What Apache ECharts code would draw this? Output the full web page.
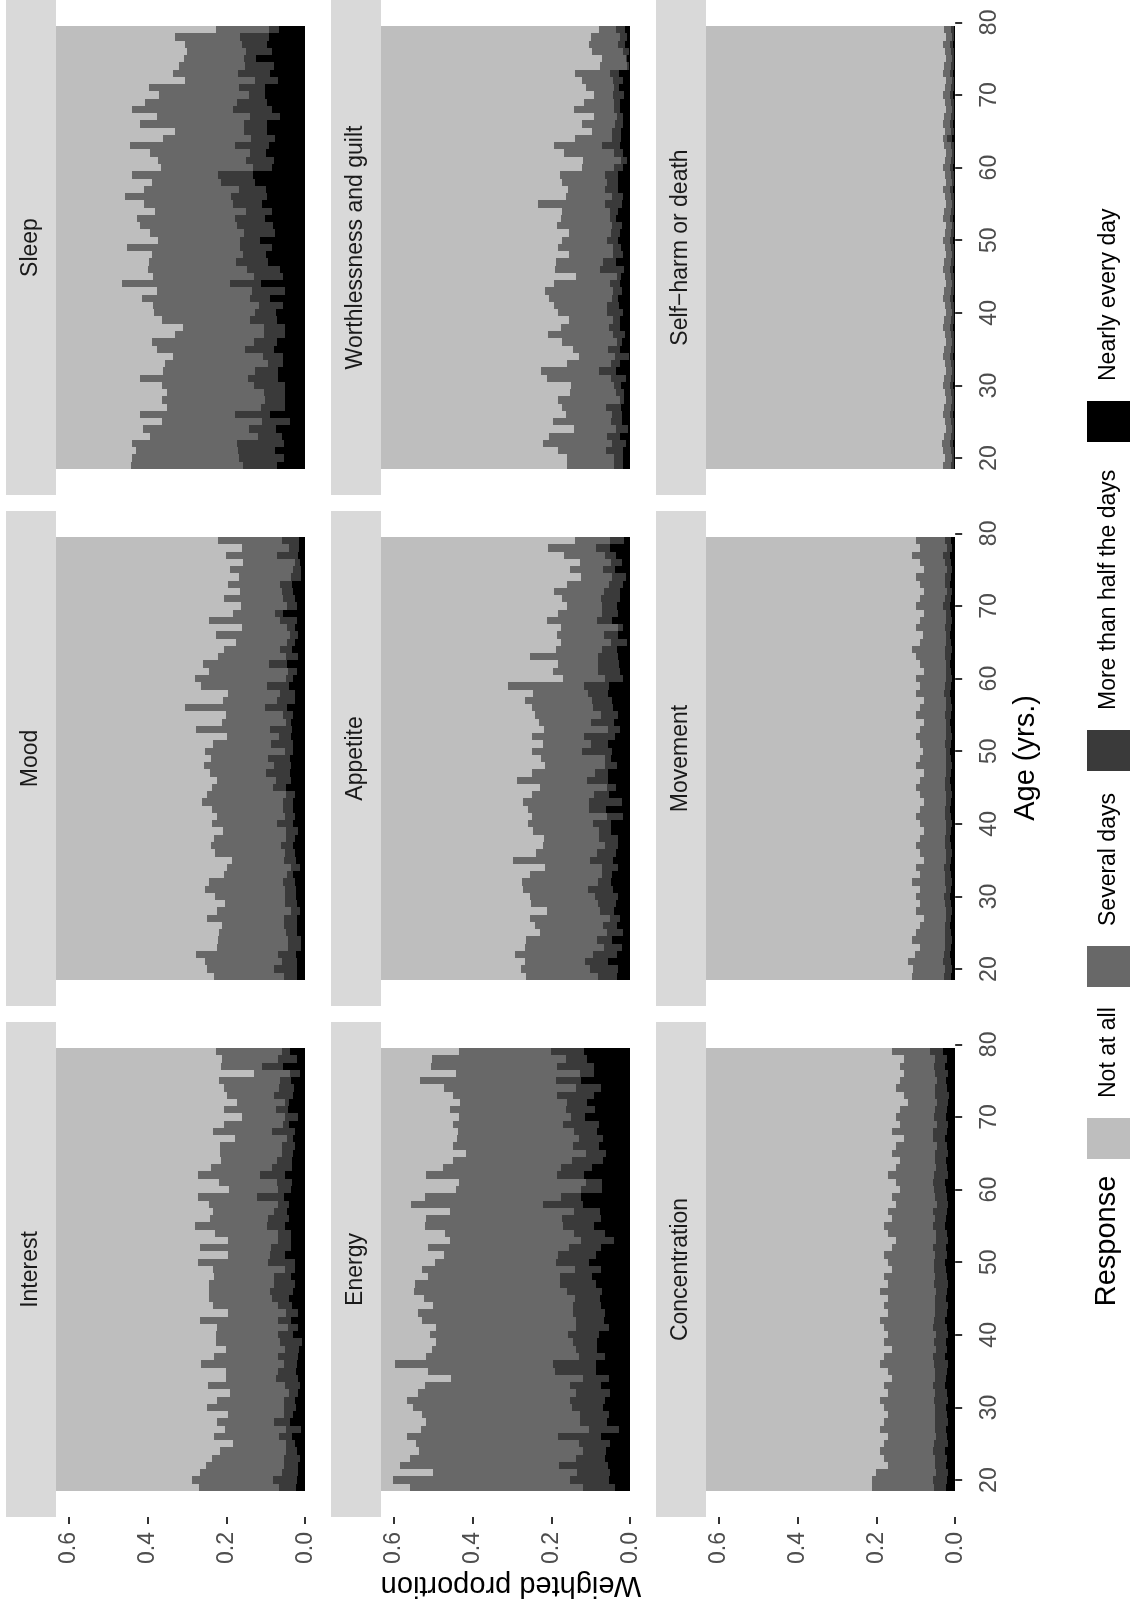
<!DOCTYPE html>
<html>
<head>
<meta charset="utf-8">
<script src="https://cdn.jsdelivr.net/npm/echarts@6/dist/echarts.min.js"></script>
<style>
  html, body { margin: 0; padding: 0; background: #ffffff; }
  #chart { width: 1132px; height: 1612px; }
</style>
</head>
<body>
<div id="chart"></div>
<script>
// ages, listed from the top of each panel (79) down to the bottom (19)
var ages = [79,78,77,76,75,74,73,72,71,70,69,68,67,66,65,64,63,62,61,60,59,58,57,56,55,54,53,52,51,50,
  49,48,47,46,45,44,43,42,41,40,39,38,37,36,35,34,33,32,31,30,29,28,27,26,25,24,23,22,21,20,19];

var responses = ['Not at all', 'Several days', 'More than half the days', 'Nearly every day'];
var proportionTicks = [0, 0.2, 0.4, 0.6];
var ageTicks = [20, 30, 40, 50, 60, 70, 80];

// weighted proportions per age (same order as ages)
var interestNearly = [0.038,0.021,0.055,0.013,0.035,0.028,0.030,0.041,0.044,0.019,0.040,0.026,0.030,0.025,0.030,0.033,0.033,0.052,0.033,0.035,
  0.053,0.040,0.046,0.040,0.052,0.035,0.035,0.035,0.052,0.026,0.026,0.035,0.026,0.031,0.041,0.033,0.018,0.035,0.019,0.030,
  0.008,0.015,0.018,0.021,0.023,0.018,0.013,0.019,0.026,0.023,0.031,0.038,0.010,0.033,0.026,0.021,0.013,0.019,0.019,0.021,0.023];
var interestMore = [0.020,0.048,0.054,0.025,0.028,0.039,0.049,0.009,0.030,0.033,0.016,0.057,0.016,0.034,0.029,0.039,0.051,0.063,0.038,0.035,
  0.068,0.029,0.032,0.054,0.045,0.033,0.033,0.051,0.037,0.068,0.025,0.043,0.052,0.057,0.042,0.035,0.030,0.033,0.025,0.038,
  0.057,0.035,0.051,0.032,0.046,0.056,0.038,0.022,0.027,0.030,0.022,0.041,0.038,0.033,0.022,0.027,0.041,0.035,0.040,0.060,0.043];
var interestSeveral = [0.169,0.142,0.104,0.091,0.155,0.139,0.119,0.124,0.132,0.108,0.150,0.152,0.132,0.157,0.157,0.142,0.155,0.157,0.147,0.124,
  0.152,0.175,0.157,0.147,0.183,0.160,0.127,0.180,0.106,0.177,0.184,0.152,0.167,0.157,0.160,0.167,0.147,0.198,0.180,0.157,
  0.162,0.150,0.162,0.210,0.132,0.127,0.195,0.150,0.170,0.195,0.144,0.144,0.155,0.165,0.134,0.167,0.183,0.198,0.208,0.205,0.203];

var moodNearly = [0.016,0.016,0.019,0.014,0.010,0.010,0.033,0.030,0.025,0.021,0.055,0.021,0.025,0.019,0.025,0.033,0.019,0.046,0.021,0.030,
  0.041,0.025,0.025,0.046,0.031,0.035,0.033,0.035,0.030,0.030,0.038,0.035,0.038,0.035,0.048,0.027,0.030,0.030,0.027,0.030,
  0.018,0.025,0.030,0.025,0.023,0.013,0.030,0.025,0.023,0.023,0.021,0.013,0.021,0.021,0.021,0.010,0.010,0.023,0.021,0.021,0.021];
var moodMore = [0.042,0.025,0.052,0.013,0.021,0.025,0.030,0.029,0.030,0.025,0.022,0.042,0.020,0.019,0.022,0.030,0.030,0.047,0.023,0.019,
  0.057,0.039,0.047,0.055,0.024,0.014,0.057,0.031,0.057,0.020,0.056,0.045,0.061,0.040,0.033,0.021,0.026,0.025,0.024,0.042,
  0.030,0.024,0.031,0.027,0.031,0.023,0.016,0.032,0.028,0.028,0.030,0.023,0.033,0.033,0.027,0.033,0.033,0.045,0.039,0.057,0.032];
var moodSeveral = [0.164,0.120,0.131,0.131,0.159,0.133,0.134,0.107,0.150,0.116,0.106,0.180,0.115,0.188,0.128,0.143,0.173,0.165,0.201,0.231,
  0.167,0.132,0.136,0.203,0.146,0.161,0.188,0.132,0.148,0.204,0.145,0.176,0.142,0.149,0.155,0.201,0.205,0.182,0.172,0.165,
  0.161,0.183,0.177,0.177,0.131,0.162,0.160,0.187,0.203,0.177,0.153,0.188,0.194,0.157,0.171,0.179,0.180,0.209,0.194,0.170,0.177];

var sleepNearly = [0.067,0.092,0.097,0.084,0.124,0.078,0.089,0.069,0.101,0.101,0.097,0.084,0.063,0.097,0.097,0.077,0.092,0.099,0.079,0.084,
  0.133,0.126,0.099,0.097,0.109,0.084,0.103,0.082,0.077,0.114,0.084,0.099,0.095,0.065,0.057,0.112,0.051,0.090,0.057,0.075,
  0.071,0.052,0.052,0.072,0.080,0.055,0.057,0.068,0.070,0.052,0.050,0.050,0.052,0.089,0.039,0.074,0.060,0.053,0.077,0.053,0.072];
var sleepMore = [0.025,0.074,0.063,0.066,0.032,0.074,0.081,0.059,0.067,0.042,0.075,0.098,0.076,0.059,0.059,0.060,0.085,0.041,0.071,0.049,
  0.087,0.087,0.068,0.090,0.074,0.066,0.076,0.090,0.079,0.051,0.081,0.059,0.080,0.083,0.073,0.079,0.084,0.049,0.059,0.052,
  0.068,0.052,0.052,0.057,0.072,0.051,0.037,0.060,0.074,0.079,0.055,0.052,0.060,0.088,0.070,0.069,0.060,0.119,0.094,0.115,0.085];
var sleepSeveral = [0.135,0.163,0.146,0.150,0.152,0.169,0.164,0.177,0.229,0.228,0.233,0.257,0.236,0.262,0.174,0.224,0.267,0.254,0.224,0.232,
  0.219,0.175,0.243,0.270,0.226,0.231,0.247,0.246,0.237,0.209,0.286,0.230,0.221,0.250,0.256,0.274,0.241,0.274,0.270,0.256,
  0.224,0.207,0.226,0.260,0.223,0.230,0.262,0.232,0.276,0.232,0.245,0.261,0.238,0.242,0.254,0.268,0.273,0.266,0.258,0.272,0.284];

var energyNearly = [0.117,0.109,0.092,0.092,0.124,0.074,0.092,0.109,0.089,0.114,0.079,0.084,0.068,0.079,0.061,0.068,0.096,0.117,0.071,0.071,
  0.124,0.119,0.076,0.074,0.091,0.063,0.041,0.074,0.086,0.104,0.074,0.096,0.086,0.071,0.076,0.074,0.063,0.066,0.053,0.079,
  0.084,0.084,0.063,0.086,0.086,0.053,0.074,0.051,0.063,0.068,0.053,0.058,0.028,0.074,0.051,0.061,0.063,0.056,0.051,0.053,0.038];
var energyMore = [0.083,0.053,0.093,0.034,0.063,0.063,0.093,0.051,0.074,0.035,0.091,0.058,0.063,0.066,0.051,0.079,0.079,0.068,0.041,0.053,
  0.051,0.101,0.066,0.099,0.079,0.079,0.084,0.081,0.096,0.084,0.066,0.081,0.091,0.089,0.063,0.071,0.081,0.071,0.084,0.079,
  0.061,0.053,0.066,0.109,0.104,0.066,0.079,0.086,0.089,0.079,0.074,0.068,0.076,0.109,0.079,0.058,0.074,0.124,0.084,0.099,0.081];
var energySeveral = [0.233,0.340,0.319,0.315,0.345,0.334,0.264,0.271,0.294,0.284,0.279,0.294,0.309,0.304,0.304,0.302,0.299,0.332,0.322,0.317,
  0.345,0.337,0.314,0.345,0.350,0.327,0.332,0.357,0.289,0.307,0.388,0.337,0.368,0.388,0.383,0.355,0.395,0.390,0.355,0.350,
  0.347,0.365,0.388,0.401,0.322,0.335,0.368,0.401,0.413,0.403,0.401,0.393,0.426,0.383,0.413,0.416,0.421,0.403,0.365,0.449,0.439];

var appetiteNearly = [0.016,0.051,0.035,0.020,0.038,0.010,0.018,0.025,0.025,0.033,0.030,0.046,0.018,0.030,0.008,0.033,0.030,0.028,0.025,0.018,
  0.053,0.057,0.046,0.043,0.030,0.041,0.025,0.038,0.056,0.046,0.048,0.033,0.056,0.056,0.035,0.053,0.020,0.061,0.018,0.048,
  0.048,0.030,0.030,0.035,0.043,0.030,0.046,0.048,0.043,0.030,0.035,0.041,0.025,0.033,0.018,0.046,0.021,0.033,0.056,0.030,0.033];
var appetiteMore = [0.035,0.035,0.028,0.028,0.030,0.035,0.035,0.041,0.048,0.038,0.041,0.038,0.014,0.037,0.041,0.038,0.051,0.053,0.056,0.046,
  0.063,0.049,0.050,0.051,0.043,0.058,0.030,0.078,0.043,0.075,0.015,0.030,0.033,0.053,0.025,0.039,0.084,0.043,0.041,0.046,
  0.030,0.048,0.035,0.048,0.058,0.041,0.025,0.033,0.063,0.058,0.046,0.035,0.025,0.035,0.041,0.038,0.045,0.061,0.058,0.071,0.048];
var appetiteSeveral = [0.090,0.123,0.106,0.078,0.085,0.080,0.108,0.128,0.101,0.090,0.112,0.126,0.144,0.119,0.126,0.116,0.174,0.103,0.116,0.106,
  0.195,0.141,0.172,0.156,0.169,0.131,0.164,0.134,0.121,0.127,0.164,0.154,0.159,0.177,0.169,0.158,0.169,0.154,0.189,0.164,
  0.169,0.141,0.157,0.156,0.197,0.144,0.183,0.194,0.166,0.165,0.170,0.134,0.205,0.174,0.169,0.179,0.202,0.197,0.154,0.175,0.184];

var worthNearly = [0.012,0.008,0.013,0.003,0.008,0.003,0.028,0.018,0.028,0.016,0.026,0.025,0.018,0.018,0.023,0.023,0.025,0.017,0.008,0.018,
  0.031,0.030,0.030,0.018,0.021,0.030,0.035,0.020,0.025,0.030,0.023,0.018,0.037,0.015,0.023,0.025,0.021,0.032,0.028,0.018,
  0.026,0.025,0.014,0.021,0.026,0.003,0.025,0.037,0.010,0.023,0.015,0.016,0.023,0.020,0.021,0.006,0.026,0.011,0.017,0.017,0.019];
var worthMore = [0.025,0.019,0.018,0.014,0.003,0.005,0.023,0.025,0.013,0.027,0.016,0.016,0.015,0.020,0.023,0.023,0.047,0.024,0.016,0.022,
  0.034,0.029,0.034,0.028,0.042,0.022,0.017,0.025,0.024,0.030,0.020,0.025,0.031,0.061,0.010,0.025,0.022,0.014,0.030,0.041,
  0.017,0.028,0.029,0.012,0.029,0.036,0.023,0.041,0.038,0.019,0.020,0.011,0.038,0.025,0.027,0.030,0.032,0.035,0.044,0.024,0.022];
var worthSeveral = [0.041,0.073,0.073,0.079,0.061,0.069,0.090,0.079,0.070,0.050,0.076,0.101,0.060,0.083,0.052,0.095,0.122,0.126,0.096,0.081,
  0.114,0.113,0.093,0.116,0.170,0.122,0.124,0.141,0.106,0.113,0.141,0.112,0.121,0.114,0.105,0.144,0.174,0.159,0.134,0.123,
  0.113,0.122,0.165,0.141,0.091,0.090,0.113,0.147,0.164,0.109,0.117,0.155,0.113,0.117,0.149,0.107,0.147,0.174,0.122,0.119,0.119];

var concNearly = [0.030,0.020,0.025,0.018,0.022,0.020,0.015,0.018,0.020,0.022,0.018,0.020,0.025,0.020,0.018,0.022,0.020,0.018,0.025,0.022,
  0.020,0.018,0.020,0.022,0.025,0.020,0.018,0.022,0.020,0.025,0.022,0.020,0.018,0.020,0.022,0.018,0.020,0.025,0.020,0.018,
  0.022,0.020,0.025,0.018,0.020,0.022,0.025,0.020,0.018,0.022,0.020,0.018,0.022,0.020,0.018,0.025,0.020,0.022,0.018,0.020,0.022];
var concMore = [0.035,0.030,0.028,0.032,0.025,0.030,0.035,0.028,0.030,0.032,0.028,0.035,0.030,0.025,0.032,0.030,0.028,0.035,0.030,0.032,
  0.030,0.028,0.035,0.030,0.032,0.028,0.030,0.035,0.030,0.028,0.032,0.030,0.035,0.028,0.030,0.032,0.030,0.028,0.035,0.030,
  0.032,0.028,0.030,0.035,0.030,0.028,0.032,0.030,0.035,0.028,0.030,0.032,0.030,0.028,0.035,0.030,0.032,0.028,0.030,0.035,0.032];
var concSeveral = [0.095,0.080,0.087,0.080,0.093,0.100,0.080,0.074,0.090,0.096,0.094,0.105,0.075,0.105,0.110,0.088,0.102,0.117,0.095,0.086,
  0.110,0.104,0.115,0.108,0.123,0.122,0.102,0.103,0.130,0.117,0.106,0.130,0.117,0.142,0.118,0.130,0.120,0.137,0.125,0.122,
  0.126,0.112,0.125,0.137,0.120,0.110,0.123,0.120,0.137,0.130,0.120,0.130,0.138,0.122,0.127,0.135,0.128,0.120,0.152,0.155,0.156];

var moveNearly = [0.010,0.008,0.012,0.010,0.008,0.010,0.012,0.008,0.010,0.012,0.010,0.008,0.010,0.012,0.010,0.008,0.010,0.012,0.010,0.008,
  0.010,0.012,0.010,0.008,0.010,0.012,0.010,0.008,0.010,0.012,0.010,0.008,0.010,0.012,0.010,0.008,0.010,0.012,0.010,0.008,
  0.010,0.012,0.010,0.008,0.010,0.012,0.010,0.008,0.010,0.012,0.010,0.008,0.010,0.012,0.010,0.008,0.010,0.012,0.010,0.008,0.010];
var moveMore = [0.015,0.012,0.018,0.015,0.012,0.016,0.014,0.012,0.015,0.018,0.012,0.015,0.016,0.012,0.014,0.018,0.015,0.012,0.014,0.016,
  0.015,0.016,0.012,0.015,0.016,0.012,0.014,0.016,0.015,0.012,0.014,0.016,0.012,0.015,0.016,0.014,0.012,0.015,0.016,0.014,
  0.012,0.015,0.016,0.014,0.012,0.016,0.015,0.018,0.014,0.016,0.015,0.016,0.012,0.015,0.016,0.018,0.015,0.016,0.020,0.018,0.018];
var moveSeveral = [0.075,0.070,0.080,0.065,0.060,0.074,0.064,0.060,0.065,0.070,0.058,0.067,0.074,0.058,0.066,0.084,0.075,0.066,0.056,0.076,
  0.065,0.072,0.058,0.067,0.074,0.056,0.066,0.076,0.065,0.058,0.066,0.076,0.058,0.063,0.074,0.068,0.058,0.063,0.074,0.068,
  0.058,0.063,0.074,0.068,0.058,0.072,0.065,0.084,0.066,0.072,0.065,0.076,0.058,0.063,0.074,0.084,0.065,0.074,0.090,0.082,0.082];

var harmNearly = [0.004,0.003,0.005,0.004,0.003,0.004,0.005,0.003,0.004,0.005,0.004,0.003,0.004,0.005,0.004,0.008,0.004,0.003,0.004,0.005,
  0.004,0.003,0.005,0.004,0.003,0.004,0.005,0.003,0.004,0.005,0.004,0.003,0.004,0.005,0.004,0.003,0.004,0.005,0.004,0.003,
  0.004,0.005,0.004,0.003,0.004,0.005,0.004,0.003,0.004,0.005,0.004,0.003,0.004,0.005,0.004,0.003,0.004,0.005,0.004,0.003,0.004];
var harmMore = [0.006,0.005,0.007,0.006,0.005,0.006,0.007,0.005,0.006,0.007,0.006,0.005,0.006,0.007,0.006,0.012,0.006,0.005,0.006,0.007,
  0.006,0.005,0.007,0.006,0.005,0.006,0.007,0.005,0.006,0.007,0.006,0.005,0.006,0.007,0.006,0.005,0.006,0.007,0.006,0.005,
  0.006,0.007,0.006,0.005,0.006,0.007,0.006,0.005,0.006,0.007,0.006,0.005,0.006,0.007,0.006,0.005,0.006,0.007,0.006,0.005,0.006];
var harmSeveral = [0.018,0.015,0.020,0.016,0.014,0.018,0.020,0.015,0.017,0.019,0.016,0.015,0.018,0.020,0.016,0.010,0.018,0.015,0.017,0.019,
  0.016,0.015,0.020,0.017,0.014,0.018,0.020,0.015,0.017,0.019,0.016,0.015,0.018,0.020,0.016,0.015,0.018,0.020,0.016,0.015,
  0.018,0.020,0.016,0.015,0.018,0.020,0.016,0.015,0.018,0.020,0.016,0.015,0.018,0.020,0.016,0.015,0.018,0.022,0.020,0.018,0.020];

var fills = ['#BEBEBE', '#686868', '#3A3A3A', '#000000'];
var font = "'Liberation Sans', Arial, Helvetica, sans-serif";

var panels = [
  { title: 'Sleep', col: 0, row: 0, several: sleepSeveral, more: sleepMore, nearly: sleepNearly },
  { title: 'Worthlessness and guilt', col: 1, row: 0, several: worthSeveral, more: worthMore, nearly: worthNearly },
  { title: 'Self\u2212harm or death', col: 2, row: 0, several: harmSeveral, more: harmMore, nearly: harmNearly },
  { title: 'Mood', col: 0, row: 1, several: moodSeveral, more: moodMore, nearly: moodNearly },
  { title: 'Appetite', col: 1, row: 1, several: appetiteSeveral, more: appetiteMore, nearly: appetiteNearly },
  { title: 'Movement', col: 2, row: 1, several: moveSeveral, more: moveMore, nearly: moveNearly },
  { title: 'Interest', col: 0, row: 2, several: interestSeveral, more: interestMore, nearly: interestNearly },
  { title: 'Energy', col: 1, row: 2, several: energySeveral, more: energyMore, nearly: energyNearly },
  { title: 'Concentration', col: 2, row: 2, several: concSeveral, more: concMore, nearly: concNearly }
];

// each item: [age, lower edge, upper edge] of one stacked piece
function stackPieces(p) {
  var out = [[], [], [], []];
  for (var i = 0; i < ages.length; i++) {
    var a = p.nearly[i], b = a + p.more[i], c = b + p.several[i];
    out[3].push([ages[i], 0, a]);
    out[2].push([ages[i], a, b]);
    out[1].push([ages[i], b, c]);
    out[0].push([ages[i], c, 1]);
  }
  return out;
}

function drawPiece(params, api) {
  var age = api.value(0), lo = api.value(1), hi = api.value(2);
  var p = api.coord([lo, age - 0.5]);
  var q = api.coord([hi, age + 0.5]);
  var x0 = Math.round(Math.min(p[0], q[0])), x1 = Math.round(Math.max(p[0], q[0]));
  var y0 = Math.round(Math.min(p[1], q[1])), y1 = Math.round(Math.max(p[1], q[1]));
  var cs = params.coordSys;
  var r = echarts.graphic.clipRectByRect(
    { x: x0, y: y0, width: x1 - x0, height: y1 - y0 },
    { x: cs.x, y: cs.y, width: cs.width, height: cs.height });
  if (!r) return;
  return { type: 'rect', shape: r, style: { fill: api.visual('color') } };
}

var grids = [], xAxes = [], yAxes = [], series = [], graphics = [];

panels.forEach(function (p, i) {
  var left = 56 + 325 * p.col, top = 511 * p.row;
  grids.push({ left: left, top: top, width: 261, height: 495 });
  xAxes.push({
    gridIndex: i, type: 'value', min: -0.03, max: 0.632, inverse: true,
    axisLine: { show: false }, splitLine: { show: false },
    axisTick: { show: p.row === 2, customValues: proportionTicks, length: 7, lineStyle: { color: '#333333', width: 2 } },
    axisLabel: {
      show: p.row === 2, customValues: proportionTicks, rotate: 90, margin: 15,
      color: '#4D4D4D', fontSize: 23, fontFamily: font,
      formatter: function (v) { return v.toFixed(1); }
    }
  });
  yAxes.push({
    gridIndex: i, type: 'value', min: 14.92, max: 83.08, position: 'right',
    axisLine: { show: false }, splitLine: { show: false },
    axisTick: { show: p.col === 2, customValues: ageTicks, length: 7, lineStyle: { color: '#333333', width: 2 } },
    axisLabel: { show: p.col === 2, customValues: ageTicks, rotate: 90, margin: 11, color: '#4D4D4D', fontSize: 23, fontFamily: font }
  });
  var pieces = stackPieces(p);
  for (var k = 0; k < 4; k++) {
    series.push({
      type: 'custom', name: responses[k], xAxisIndex: i, yAxisIndex: i,
      renderItem: drawPiece, itemStyle: { color: fills[k] },
      encode: { x: [1, 2], y: 0 }, data: pieces[k], silent: true
    });
  }
  // facet strip
  graphics.push({ type: 'rect', x: 6 + 325 * p.col, y: top, shape: { width: 50, height: 495 }, style: { fill: '#D9D9D9' } });
  graphics.push({
    type: 'text', x: 31 + 325 * p.col, y: top + 247.5, rotation: Math.PI / 2,
    style: { text: p.title, fontSize: 23, fontFamily: font, fill: '#1A1A1A', align: 'center', verticalAlign: 'middle' }
  });
});

// axis titles
graphics.push({
  type: 'text', x: 511, y: 1585, rotation: Math.PI,
  style: { text: 'Weighted proportion', fontSize: 29, fontFamily: font, fill: '#000', align: 'center', verticalAlign: 'middle' }
});
graphics.push({
  type: 'text', x: 1026, y: 758, rotation: Math.PI / 2,
  style: { text: 'Age (yrs.)', fontSize: 29, fontFamily: font, fill: '#000', align: 'center', verticalAlign: 'middle' }
});

// legend (keys with labels above them)
graphics.push({
  type: 'text', x: 1107, y: 1241, rotation: Math.PI / 2,
  style: { text: 'Response', fontSize: 29, fontFamily: font, fill: '#000', align: 'center', verticalAlign: 'middle' }
});
var keyTops = [1118, 946, 730, 401];
responses.forEach(function (r, k) {
  graphics.push({ type: 'rect', x: 1087, y: keyTops[k], shape: { width: 43, height: 41 }, style: { fill: fills[k] } });
  graphics.push({
    type: 'text', x: 1109, y: keyTops[k] - 20, rotation: Math.PI / 2,
    style: { text: r, fontSize: 23, fontFamily: font, fill: '#000', align: 'left', verticalAlign: 'middle' }
  });
});

var chart = echarts.init(document.getElementById('chart'));
chart.setOption({
  animation: false,
  backgroundColor: '#ffffff',
  grid: grids,
  xAxis: xAxes,
  yAxis: yAxes,
  series: series,
  graphic: graphics
});
</script>
</body>
</html>
